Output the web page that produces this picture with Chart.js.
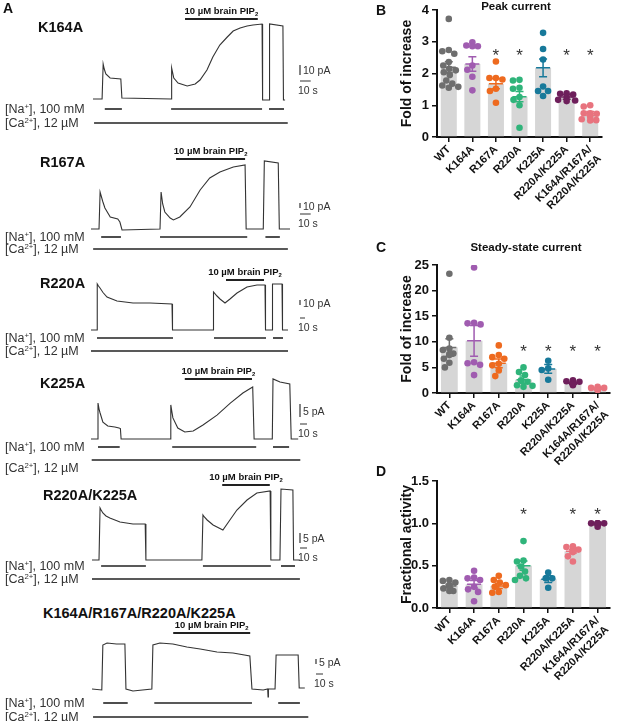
<!DOCTYPE html>
<html>
<head>
<meta charset="utf-8">
<script src="https://cdn.jsdelivr.net/npm/chart.js@4.4.1/dist/chart.umd.min.js"></script>
<style>
  body { margin: 0; background: #fff; width: 617px; height: 721px; position: relative; overflow: hidden; font-family: 'Liberation Sans', Arial, sans-serif; color: #222; }
  canvas { position: absolute; }
  .t { position: absolute; white-space: nowrap; line-height: 1; }
  .t sup { font-size: 0.62em; vertical-align: 0.55em; line-height: 0; }
  .t sub { font-size: 0.62em; vertical-align: -0.25em; line-height: 0; }
  .panel { font-weight: bold; font-size: 14px; color: #111; }
  .name { font-weight: bold; font-size: 14.5px; color: #111; }
  .sol { font-size: 12.5px; color: #333; }
  .pip { font-weight: bold; font-size: 9.5px; color: #111; }
  .sb { font-size: 10.5px; color: #333; }
  .ttl { font-weight: bold; font-size: 11.5px; color: #111; }
</style>
</head>
<body>
<script>
const F = "'Liberation Sans', Arial, sans-serif";

// ---- panel A: current traces, time in s, current in pA above baseline ----
const k164aT = [0, 8.5, 9.5, 10.5, 12, 16, 26, 27, 73, 73.5, 75.5, 79.5, 88, 95.5, 100, 106.5, 112, 118.5, 125.5, 131, 137.5, 144, 149.5, 158, 158.5, 164.5, 165, 177.5, 178, 179.5];
const k164aI = [0, 0, 35, 30, 25, 21, 20, 1, 0, 31, 21, 16, 13, 15, 19, 29, 42, 54, 62, 68, 71, 73, 74, 75, -1, -1, 75, 73, -1, -1];
const k164aNa = [[11, 27], [73, 158], [164.5, 178.5]];
const k164aCa = [[1, 182]];
const k164aPip = [86, 154];

const r167aT = [0, 7.5, 8.5, 11, 13, 18, 25, 27, 29, 64.5, 65.5, 67, 69, 74, 77, 83, 92.5, 102, 111, 120.5, 133, 144, 145, 161, 162, 175, 176, 186];
const r167aI = [0, 0, 74, 55, 42, 24, 20, 14, -2, 0, 74, 50, 34, 22, 18, 24, 44, 78, 102, 114, 124, 128, 0, 0, 136, 132, 0, 0];
const r167aNa = [[9.5, 28], [64.5, 146], [163, 176.5]];
const r167aCa = [[2, 184]];
const r167aPip = [79.5, 144];

const r220aT = [0, 12, 12.5, 15, 18, 24, 32, 52, 84, 118, 162, 163, 244, 245, 252, 258, 268, 278, 292, 312, 332, 348, 349, 362, 363, 382, 383, 394];
const r220aI = [0, 0, 92, 88, 84, 75, 66, 58, 54, 54, 52, 0, 0, 76, 68, 62, 54, 62, 74, 86, 90, 90, 0, 0, 92, 92, 0, 0];
const r220aNa = [[12, 164], [246, 350], [364, 384]];
const r220aCa = [[0, 394]];
const r220aPip = [270, 346];

const k225aT = [0, 9, 10, 11.5, 13, 17, 24, 34, 40, 42, 43, 113, 114, 115.5, 117, 124, 134, 146, 160, 180, 199, 217, 231, 233, 259, 260, 270, 284, 286, 296];
const k225aI = [0, 0, 13.8, 11.5, 10, 6.5, 5, 4.6, 4.2, 4, 0, 0, 13.1, 10.5, 8.1, 4.2, 2.7, 3.1, 5.4, 9.2, 13.8, 17.7, 20, 0, 0, 23.1, 21.9, 21.2, 0, 0];
const k225aNa = [[10, 41], [116, 236], [260, 283]];
const k225aCa = [[1, 299]];
const k225aPip = [134, 230];

const dblT = [0, 10, 11.5, 13, 15.5, 20, 25.5, 40, 58.5, 76, 77, 157, 158.5, 160.5, 164.5, 173, 187, 197, 207, 221.5, 235.5, 254.5, 255.5, 268.5, 270, 287, 288, 297];
const dblI = [0, 0, 26, 25, 23.5, 22, 21, 19, 18, 18, 0, 0, 22.5, 21.5, 20, 17.5, 15, 20, 25, 30, 33.5, 34.5, 0, 0, 35.5, 35, 0, 0];
const dblNa = [[13, 77], [158.5, 255.5], [270, 290]];
const dblCa = [[0, 297]];
const dblPip = [186, 254];

const quadT = [0, 14, 15.5, 21.5, 35, 47, 48.5, 58.5, 85.5, 87, 97, 115.5, 135.5, 154.5, 178.5, 201.5, 225.5, 228.5, 244.5, 251, 251.5, 252, 261.5, 263, 294.5, 296, 304];
const quadI = [0, -1, 44, 46, 45, 45, 0, -2, 0, 44, 46, 45, 42, 40, 37, 36, 33, 0, -1, 0, -8, 0, 0, 34, 34, 1, 1];
const quadNa = [[16, 51], [89, 228.5], [266, 297]];
const quadCa = [[1.5, 309]];
const quadPip = [116, 226];

const traces = [
  { name: 'K164A', t: k164aT, i: k164aI, na: k164aNa, ca: k164aCa, pip: k164aPip, amp: 10 },
  { name: 'R167A', t: r167aT, i: r167aI, na: r167aNa, ca: r167aCa, pip: r167aPip, amp: 10 },
  { name: 'R220A', t: r220aT, i: r220aI, na: r220aNa, ca: r220aCa, pip: r220aPip, amp: 10 },
  { name: 'K225A', t: k225aT, i: k225aI, na: k225aNa, ca: k225aCa, pip: k225aPip, amp: 5 },
  { name: 'R220A/K225A', t: dblT, i: dblI, na: dblNa, ca: dblCa, pip: dblPip, amp: 5 },
  { name: 'K164A/R167A/R220A/K225A', t: quadT, i: quadI, na: quadNa, ca: quadCa, pip: quadPip, amp: 5 }
];

// page layout of each trace block (px)
const traceLayout = [
  { top: 11,  h: 118, x0: 93, pxS: 1.07, base: 99,  pxA: 1.0, naY: 109, caY: 123, caTxt: 123, pipY: 19,  sbX: 300, sbY: 65,  hY: 81,  nameX: 38, nameY: 27 },
  { top: 151, h: 104, x0: 91, pxS: 1.07, base: 229, pxA: 0.5, naY: 237, caY: 249, caTxt: 249, pipY: 159, sbX: 300, sbY: 203, hY: 214, nameX: 40, nameY: 162 },
  { top: 272, h: 85,  x0: 91, pxS: 0.5,  base: 330, pxA: 0.5, naY: 338, caY: 351, caTxt: 351, pipY: 280, sbX: 300, sbY: 300, hY: 318, nameX: 40, nameY: 283 },
  { top: 371, h: 95,  x0: 91, pxS: 0.7,  base: 439, pxA: 2.6, naY: 447, caY: 460, caTxt: 468, pipY: 379, sbX: 300, sbY: 404, hY: 424, nameX: 40, nameY: 383 },
  { top: 477, h: 108, x0: 92, pxS: 0.7,  base: 560, pxA: 2.0, naY: 566, caY: 579, caTxt: 579, pipY: 485, sbX: 300, sbY: 533, hY: 548, nameX: 43, nameY: 495 },
  { top: 625, h: 98,  x0: 92, pxS: 0.7,  base: 689, pxA: 1.0, naY: 703, caY: 717, caTxt: 717, pipY: 633, sbX: 316, sbY: 659, hY: 674, nameX: 43, nameY: 613 }
];
const TRACE_W = 360;

// ---- panels B-D: fold increase / fractional activity ----
const groups = ['WT', 'K164A', 'R167A', 'R220A', 'K225A', 'R220A/K225A', ['K164A/R167A/', 'R220A/K225A']];

const peakMean = [2.2, 2.3, 1.68, 1.27, 2.18, 1.26, 0.74];
const peakSem = [0.17, 0.23, 0.16, 0.16, 0.28, 0.07, 0.06];
const peakPts = [
  [3.72, 2.74, 2.7, 2.62, 2.36, 2.25, 2.15, 2.1, 2.04, 1.95, 1.78, 1.68, 1.62, 1.58, 1.55],
  [2.98, 2.88, 2.86, 2.86, 2.25, 2.12, 1.9, 1.47],
  [2.38, 1.86, 1.86, 1.81, 1.52, 1.45, 1.08],
  [1.8, 1.78, 1.55, 1.52, 1.26, 1.17, 1.0, 0.29],
  [3.28, 2.77, 2.44, 1.59, 1.45, 1.45, 1.29],
  [1.38, 1.36, 1.34, 1.26, 1.17, 1.15, 1.13],
  [1.0, 0.96, 0.75, 0.75, 0.73, 0.63, 0.56, 0.53, 0.52]
];
const peakStar = [false, false, true, true, false, true, true];

const steadyMean = [8.9, 10.2, 5.8, 2.6, 4.7, 1.9, 0.8];
const steadySem = [1.7, 3.0, 0.85, 0.7, 0.85, 0.2, 0.08];
const steadyPts = [
  [23.3, 10.8, 8.7, 8.4, 7.7, 7.6, 7.4, 6.7, 5.9, 5.0],
  [24.5, 13.7, 13.6, 13.4, 6.0, 5.8, 5.5, 3.5],
  [9.3, 7.4, 7.0, 6.7, 5.7, 5.4, 4.4, 3.3],
  [5.0, 4.1, 3.5, 2.5, 2.2, 1.5, 1.4, 1.2],
  [6.3, 4.8, 4.5, 2.6],
  [2.5, 2.3, 2.2, 1.8, 1.7, 1.5],
  [1.2, 1.0, 1.0, 0.9, 0.8, 0.7, 0.7, 0.6]
];
const steadyStar = [false, false, false, true, true, true, true];

const fracMean = [0.26, 0.28, 0.26, 0.5, 0.34, 0.67, 0.99];
const fracSem = [0.02, 0.045, 0.03, 0.055, 0.04, 0.02, 0.006];
const fracPts = [
  [0.33, 0.32, 0.3, 0.27, 0.26, 0.23, 0.2, 0.2],
  [0.44, 0.36, 0.35, 0.33, 0.25, 0.22, 0.19, 0.08],
  [0.38, 0.33, 0.3, 0.27, 0.25, 0.19, 0.18],
  [0.79, 0.56, 0.55, 0.49, 0.43, 0.38, 0.35, 0.33],
  [0.42, 0.35, 0.35, 0.24],
  [0.73, 0.72, 0.69, 0.69, 0.67, 0.66, 0.61, 0.55],
  [1.0, 1.0, 1.0, 1.0, 1.0, 0.99, 0.96]
];
const fracStar = [false, false, false, true, false, true, true];

const grey = '#6e6e6e', purple = '#a05cb0', orange = '#ee6a1f', green = '#2fb47a', teal = '#17799a', plum = '#6e1f5b', pink = '#e8737e';
const colorsBC = [grey, purple, orange, green, teal, plum, pink];
const colorsD = [grey, purple, orange, green, teal, pink, plum];

// ---------- helpers ----------
function txt(html, x, y, cls, center) {
  const d = document.createElement('div');
  d.className = 't ' + cls;
  d.innerHTML = html;
  d.style.left = x + 'px';
  d.style.top = y + 'px';
  d.style.transform = center ? 'translate(-50%,-50%)' : 'translateY(-50%)';
  document.body.appendChild(d);
}

function makeCanvas(left, top, w, h) {
  const c = document.createElement('canvas');
  c.width = w; c.height = h;
  c.style.left = left + 'px'; c.style.top = top + 'px';
  document.body.appendChild(c);
  return c;
}

const solutionBars = {
  id: 'solutionBars',
  afterDatasetsDraw(chart, args, o) {
    const { ctx, scales: { x, y } } = chart;
    ctx.save();
    ctx.strokeStyle = '#222';
    const seg = (wins, row, w) => {
      ctx.lineWidth = w;
      wins.forEach(([a, b]) => {
        ctx.beginPath();
        ctx.moveTo(x.getPixelForValue(a), row);
        ctx.lineTo(x.getPixelForValue(b), row);
        ctx.stroke();
      });
    };
    seg(o.na, o.naY, 1.6);
    seg(o.ca, o.caY, 1.4);
    seg([o.pip], o.pipY, 2);
    // scale bars: amp pA and 10 s
    const v = y.getPixelForValue(0) - y.getPixelForValue(o.amp);
    const h = x.getPixelForValue(10) - x.getPixelForValue(0);
    ctx.lineWidth = 1.2;
    ctx.strokeStyle = '#333';
    ctx.beginPath();
    ctx.moveTo(o.sbX, o.sbY); ctx.lineTo(o.sbX, o.sbY + v);
    ctx.moveTo(o.sbX, o.hY); ctx.lineTo(o.sbX + h, o.hY);
    ctx.stroke();
    ctx.restore();
  }
};

traces.forEach((tr, k) => {
  const L = traceLayout[k];
  const cv = makeCanvas(0, L.top, TRACE_W, L.h);
  const chart = new Chart(cv, {
    type: 'line',
    data: {
      datasets: [{
        data: tr.t.map((t, j) => ({ x: t, y: tr.i[j] })),
        borderColor: '#333',
        borderWidth: 1.1,
        pointRadius: 0,
        tension: 0,
        clip: false
      }]
    },
    options: {
      responsive: false,
      animation: false,
      events: [],
      layout: { padding: 0 },
      plugins: {
        legend: { display: false },
        tooltip: { enabled: false },
        solutionBars: {
          na: tr.na, ca: tr.ca, pip: tr.pip, amp: tr.amp,
          naY: L.naY - L.top, caY: L.caY - L.top, pipY: L.pipY - L.top,
          sbX: L.sbX, sbY: L.sbY - L.top, hY: L.hY - L.top
        }
      },
      scales: {
        x: { type: 'linear', display: false, min: -L.x0 / L.pxS, max: (TRACE_W - L.x0) / L.pxS },
        y: { display: false, min: -(L.top + L.h - L.base) / L.pxA, max: (L.base - L.top) / L.pxA }
      }
    },
    plugins: [solutionBars]
  });
  txt(tr.name, L.nameX, L.nameY, 'name');
  txt('[Na<sup>+</sup>], 100 mM', 5, L.naY, 'sol');
  txt('[Ca<sup>2+</sup>], 12 µM', 5, L.caTxt, 'sol');
  const pipMid = chart.scales.x.getPixelForValue((tr.pip[0] + tr.pip[1]) / 2);
  txt('10 µM brain PIP<sub>2</sub>', pipMid, L.pipY - 8, 'pip', true);
  const ampPx = tr.amp * L.pxA;
  txt(tr.amp + ' pA', L.sbX + 3, L.sbY + ampPx / 2, 'sb');
  txt('10 s', L.sbX - 2, L.hY + 9, 'sb');
});

// ---------- bar + scatter panels ----------
// spread overlapping dots sideways (GraphPad-style scatter)
function swarm(vals, unitPx, catPx) {
  const placed = [];
  return vals.map(v => {
    const y = v * unitPx;
    let off = 0;
    for (let k = 0; k < 40; k++) {
      const c = (k % 2 ? -1 : 1) * Math.ceil(k / 2) * 0.5;
      if (placed.every(p => Math.hypot(p.x - c, p.y - y) >= 6.4)) { off = c; break; }
    }
    placed.push({ x: off, y });
    return off / catPx;
  });
}

const errorBars = {
  id: 'errorBars',
  afterDatasetsDraw(chart, args, o) {
    const { ctx, scales: { x, y } } = chart;
    ctx.save();
    ctx.lineWidth = 1.5;
    o.mean.forEach((m, i) => {
      const px = x.getPixelForValue(i);
      const top = y.getPixelForValue(m + o.sem[i]);
      const bot = y.getPixelForValue(Math.max(0, m - o.sem[i]));
      const my = y.getPixelForValue(m);
      ctx.strokeStyle = o.colors[i];
      ctx.beginPath();
      ctx.moveTo(px, top); ctx.lineTo(px, bot);
      ctx.moveTo(px - 4, top); ctx.lineTo(px + 4, top);
      ctx.moveTo(px - 4, bot); ctx.lineTo(px + 4, bot);
      ctx.moveTo(px - 7, my); ctx.lineTo(px + 7, my);
      ctx.stroke();
    });
    ctx.fillStyle = '#333';
    ctx.font = '17px ' + F;
    ctx.textAlign = 'center';
    ctx.textBaseline = 'middle';
    o.star.forEach((s, i) => {
      if (s) ctx.fillText('*', x.getPixelForValue(i), y.getPixelForValue(o.starAt) + 4);
    });
    ctx.restore();
  }
};

const AXIS_W = 38, XAXIS_H = 78, PLOT_H = 128;

function barPanel(cfg) {
  const cv = makeCanvas(395, cfg.top, 222, cfg.height);
  const catPx = (222 - 4 - AXIS_W - cfg.padRight) / groups.length;
  const unitPx = PLOT_H / cfg.max;
  const scatterSets = cfg.pts.map((vals, i) => {
    const offs = swarm(vals, unitPx, catPx);
    return {
      type: 'scatter',
      data: vals.map((v, j) => ({ x: i + offs[j], y: v })),
      backgroundColor: cfg.colors[i],
      borderWidth: 0,
      pointRadius: 3.3,
      order: 1
    };
  });
  return new Chart(cv, {
    type: 'bar',
    data: {
      datasets: [{
        data: cfg.mean.map((m, i) => ({ x: i, y: m })),
        backgroundColor: '#d6d6d6',
        borderWidth: 0,
        barPercentage: 0.68,
        categoryPercentage: 1,
        order: 3
      }, ...scatterSets]
    },
    options: {
      responsive: false,
      animation: false,
      events: [],
      layout: { padding: { left: 4, right: cfg.padRight, top: cfg.padTop, bottom: 0 } },
      plugins: {
        legend: { display: false },
        tooltip: { enabled: false },
        errorBars: { mean: cfg.mean, sem: cfg.sem, colors: cfg.colors, star: cfg.star, starAt: cfg.starAt }
      },
      scales: {
        x: {
          type: 'linear',
          offset: false,
          min: -0.5,
          max: groups.length - 0.5,
          afterBuildTicks: s => { s.ticks = groups.map((g, i) => ({ value: i })); },
          grid: { offset: false, drawOnChartArea: false, color: '#111', lineWidth: 1.5, tickLength: 5 },
          border: { color: '#111', width: 2 },
          ticks: { color: '#111', font: { size: 11, weight: 'bold', family: F }, minRotation: 45, maxRotation: 45, autoSkip: false, padding: 1,
            callback: v => groups[v] },
          afterFit: s => { s.height = XAXIS_H; s.paddingLeft = 0; s.paddingRight = 0; }
        },
        y: {
          min: 0, max: cfg.max,
          ticks: { stepSize: cfg.step, color: '#111', font: { size: 13, weight: 'bold', family: F }, padding: 3, callback: cfg.fmt },
          grid: { drawOnChartArea: false, color: '#111', lineWidth: 1.5, tickLength: 5 },
          border: { color: '#111', width: 2 },
          title: { display: true, text: cfg.ytitle, color: '#111', font: { size: 14, weight: 'bold', family: F }, padding: 0 },
          afterFit: s => { s.width = AXIS_W; s.paddingTop = 0; s.paddingBottom = 0; }
        }
      }
    },
    plugins: [errorBars]
  });
}

barPanel({ top: 0, height: 137 + XAXIS_H, padTop: 10, padRight: 15, max: 4, step: 1, fmt: v => v,
  mean: peakMean, sem: peakSem, pts: peakPts, star: peakStar, starAt: 2.67, colors: colorsBC, ytitle: 'Fold of increase' });
barPanel({ top: 240, height: 153 + XAXIS_H, padTop: 25, padRight: 7, max: 25, step: 5, fmt: v => v,
  mean: steadyMean, sem: steadySem, pts: steadyPts, star: steadyStar, starAt: 8.7, colors: colorsBC, ytitle: 'Fold of increase' });
barPanel({ top: 470, height: 138 + XAXIS_H, padTop: 11, padRight: 7, max: 1.5, step: 0.5, fmt: v => v.toFixed(1),
  mean: fracMean, sem: fracSem, pts: fracPts, star: fracStar, starAt: 1.14, colors: colorsD, ytitle: 'Fractional activity' });

txt('Peak current', 516, 7, 'ttl', true);
txt('Steady-state current', 526, 248, 'ttl', true);

txt('A', 3, 8, 'panel');
txt('B', 376, 10, 'panel');
txt('C', 376, 247, 'panel');
txt('D', 376, 471, 'panel');
</script>
</body>
</html>
